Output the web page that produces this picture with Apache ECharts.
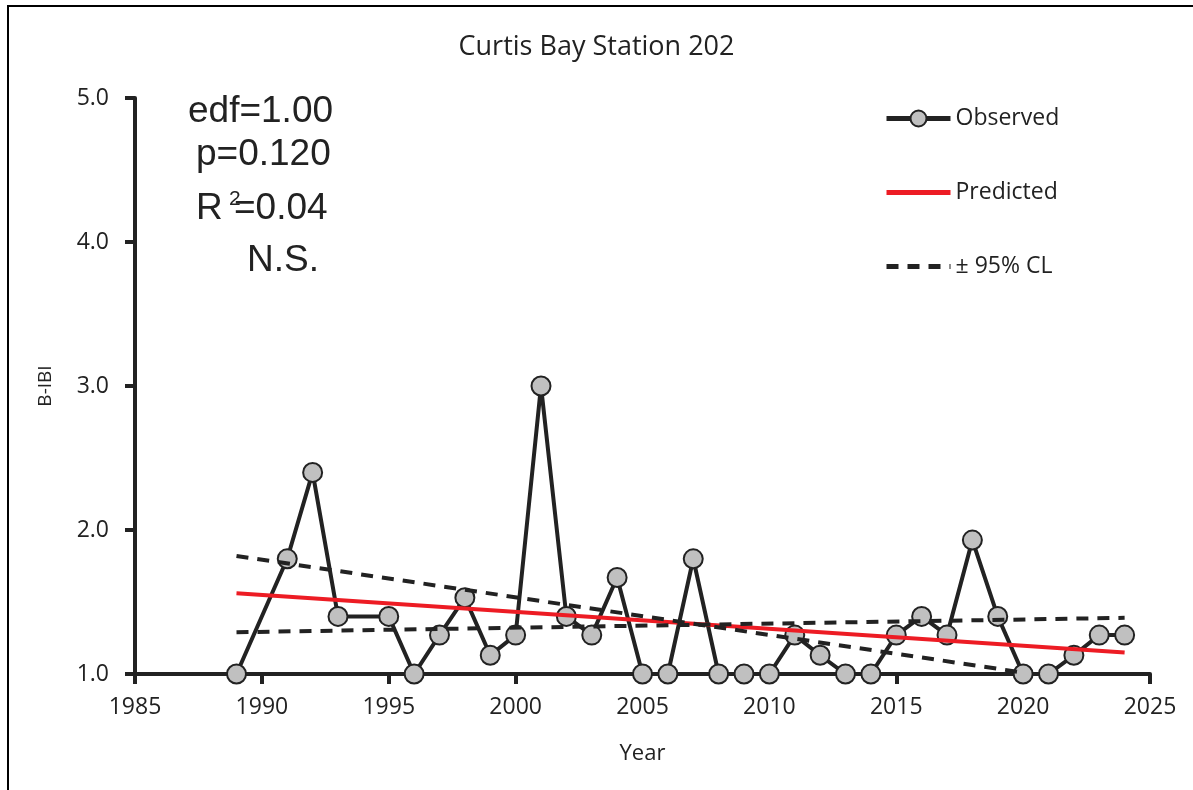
<!DOCTYPE html>
<html>
<head>
<meta charset="utf-8">
<script src="https://cdn.jsdelivr.net/npm/echarts@6/dist/echarts.min.js"></script>
<style>
html,body{margin:0;padding:0;background:#fff;}
#chart{width:1193px;height:790px;}
</style>
</head>
<body>
<div id="chart"></div>
<script>
// ---- data ----
const years = [1989,1991,1992,1993,1995,1996,1997,1998,1999,2000,2001,2002,2003,2004,2005,2006,2007,2008,2009,2010,2011,2012,2013,2014,2015,2016,2017,2018,2019,2020,2021,2022,2023,2024];
const observed = [1.0,1.8,2.4,1.4,1.4,1.0,1.27,1.53,1.13,1.27,3.0,1.4,1.27,1.67,1.0,1.0,1.8,1.0,1.0,1.0,1.27,1.13,1.0,1.0,1.27,1.4,1.27,1.93,1.4,1.0,1.0,1.13,1.27,1.27];
const predictedYears = [1989, 2024];
const predicted = [1.56, 1.15];
const clAYears = [1989, 2020];
const clA = [1.82, 1.01];
const clBYears = [1989, 2024];
const clB = [1.29, 1.39];
const xTicks = {min:1985, max:2025, step:5};
const yTicks = {min:1.0, max:5.0, step:1.0};
const titleText = 'Curtis Bay Station 202';
const statLines = ['edf=1.00','p=0.120','R','2','=0.04','N.S.'];

const pair = (xs, ys) => xs.map((x,i)=>[x, ys[i]]);
const uiFont = '"Open Sans", "Noto Sans", sans-serif';
const statFont = '"Liberation Sans", Arial, sans-serif';
const ink = '#222';

const chart = echarts.init(document.getElementById('chart'));
chart.setOption({
  animation:false,
  backgroundColor:'#fff',
  title:{text:titleText, left:'center', top:29,
    textStyle:{fontFamily:uiFont, fontSize:27, fontWeight:'normal', color:ink}},
  grid:{left:135, right:43, top:98, bottom:116},
  legend:{orient:'vertical', left:879, top:102, itemWidth:64, itemHeight:20, itemGap:51,
    lineStyle:{width:5},
    textStyle:{fontFamily:uiFont, fontSize:23, color:ink},
    data:['Observed','Predicted','± 95% CL']},
  xAxis:{type:'value', min:xTicks.min, max:xTicks.max, interval:xTicks.step,
    name:'Year', nameLocation:'middle', nameGap:69,
    nameTextStyle:{fontFamily:uiFont, fontSize:22, color:ink},
    axisLine:{lineStyle:{color:ink, width:4}},
    axisTick:{length:10, lineStyle:{color:ink, width:4}},
    axisLabel:{fontFamily:uiFont, fontSize:23, color:ink, margin:22,
      formatter:v=>String(v)},
    splitLine:{show:false}},
  yAxis:{type:'value', min:yTicks.min, max:yTicks.max, interval:yTicks.step,
    name:'B-IBI', nameLocation:'middle', nameGap:80, nameRotate:90,
    nameTextStyle:{fontFamily:uiFont, fontSize:19, color:ink},
    axisLine:{lineStyle:{color:ink, width:4}},
    axisTick:{length:10, lineStyle:{color:ink, width:4}},
    axisLabel:{fontFamily:uiFont, fontSize:23, color:ink, margin:26,
      formatter:v=>v.toFixed(1)},
    splitLine:{show:false}},
  series:[
    {name:'Observed', type:'line', data:pair(years, observed), z:2,
      symbol:'circle', symbolSize:19, showAllSymbol:true,
      lineStyle:{color:ink, width:4},
      itemStyle:{color:'#c0c0c0', borderColor:ink, borderWidth:2}},
    {name:'Predicted', type:'line', data:pair(predictedYears, predicted), z:3,
      symbol:'none', lineStyle:{color:'#ed1c24', width:4},
      itemStyle:{color:'rgba(0,0,0,0)', borderWidth:0}},
    {name:'± 95% CL', type:'line', data:pair(clAYears, clA), z:3,
      symbol:'none', lineStyle:{color:ink, width:4, type:[12,9]},
      itemStyle:{color:'rgba(0,0,0,0)', borderWidth:0}},
    {name:'± 95% CL', type:'line', data:pair(clBYears, clB), z:3,
      symbol:'none', lineStyle:{color:ink, width:4, type:[12,9]},
      itemStyle:{color:'rgba(0,0,0,0)', borderWidth:0}}
  ],
  graphic:[
    {type:'line', shape:{x1:8, y1:5, x2:8, y2:790}, style:{stroke:'#000', lineWidth:2}},
    {type:'line', shape:{x1:7, y1:6, x2:1193, y2:6}, style:{stroke:'#000', lineWidth:2}},
    {type:'text', x:188, y:112, style:{text:statLines[0], font:'37px '+statFont, fill:ink, verticalAlign:'middle'}},
    {type:'text', x:196, y:155, style:{text:statLines[1], font:'37px '+statFont, fill:ink, verticalAlign:'middle'}},
    {type:'text', x:196, y:209, style:{text:statLines[2], font:'37px '+statFont, fill:ink, verticalAlign:'middle'}},
    {type:'text', x:229, y:199, style:{text:statLines[3], font:'21px '+statFont, fill:ink, verticalAlign:'middle'}},
    {type:'text', x:234, y:209, style:{text:statLines[4], font:'37px '+statFont, fill:ink, verticalAlign:'middle'}},
    {type:'text', x:247, y:261, style:{text:statLines[5], font:'37px '+statFont, fill:ink, verticalAlign:'middle'}}
  ]
});
</script>
</body>
</html>
